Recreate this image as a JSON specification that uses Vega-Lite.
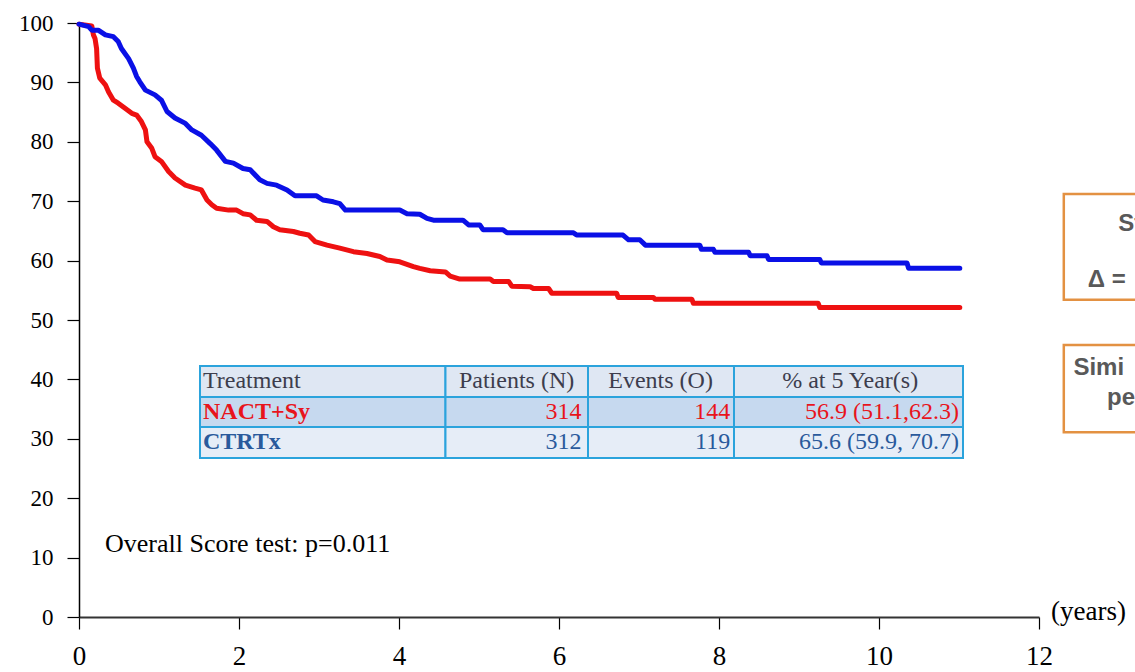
{
  "$schema": "https://vega.github.io/schema/vega-lite/v6.json",
  "width": 960,
  "height": 594,
  "autosize": "none",
  "padding": {"left": 79, "top": 23, "right": 96, "bottom": 55},
  "background": "white",
  "config": {
    "view": {"stroke": null},
    "font": "Liberation Serif",
    "axis": {"labelFont": "Liberation Serif", "labelColor": "#000000", "tickColor": "#000000", "tickSize": 12, "tickWidth": 1.2, "grid": false, "title": null, "labelFlush": false, "labelOverlap": false},
    "axisX": {"labelFontSize": 27, "domainColor": "#333333", "domainWidth": 2, "labelPadding": 14},
    "axisY": {"labelFontSize": 23, "domainColor": "#000000", "domainWidth": 1.5, "labelPadding": 14}
  },
  "datasets": {
    "curves": [
      {"arm": "NACT+Sy", "t": 0, "s": 99.8},
      {"arm": "NACT+Sy", "t": 0.16, "s": 99.5},
      {"arm": "NACT+Sy", "t": 0.18, "s": 98.0},
      {"arm": "NACT+Sy", "t": 0.2, "s": 97.4},
      {"arm": "NACT+Sy", "t": 0.22, "s": 95.7},
      {"arm": "NACT+Sy", "t": 0.23, "s": 92.4},
      {"arm": "NACT+Sy", "t": 0.26, "s": 90.7},
      {"arm": "NACT+Sy", "t": 0.33, "s": 89.6},
      {"arm": "NACT+Sy", "t": 0.37, "s": 88.4},
      {"arm": "NACT+Sy", "t": 0.43, "s": 87.0},
      {"arm": "NACT+Sy", "t": 0.49, "s": 86.5},
      {"arm": "NACT+Sy", "t": 0.58, "s": 85.6},
      {"arm": "NACT+Sy", "t": 0.66, "s": 84.8},
      {"arm": "NACT+Sy", "t": 0.72, "s": 84.5},
      {"arm": "NACT+Sy", "t": 0.78, "s": 83.4},
      {"arm": "NACT+Sy", "t": 0.83, "s": 82.0},
      {"arm": "NACT+Sy", "t": 0.85, "s": 80.0},
      {"arm": "NACT+Sy", "t": 0.91, "s": 78.9},
      {"arm": "NACT+Sy", "t": 0.95, "s": 77.5},
      {"arm": "NACT+Sy", "t": 1.03, "s": 76.7},
      {"arm": "NACT+Sy", "t": 1.12, "s": 75.0},
      {"arm": "NACT+Sy", "t": 1.2, "s": 73.9},
      {"arm": "NACT+Sy", "t": 1.33, "s": 72.7},
      {"arm": "NACT+Sy", "t": 1.45, "s": 72.2},
      {"arm": "NACT+Sy", "t": 1.53, "s": 71.9},
      {"arm": "NACT+Sy", "t": 1.6, "s": 70.2},
      {"arm": "NACT+Sy", "t": 1.66, "s": 69.4},
      {"arm": "NACT+Sy", "t": 1.72, "s": 68.8},
      {"arm": "NACT+Sy", "t": 1.87, "s": 68.5},
      {"arm": "NACT+Sy", "t": 1.97, "s": 68.5},
      {"arm": "NACT+Sy", "t": 2.05, "s": 67.9},
      {"arm": "NACT+Sy", "t": 2.14, "s": 67.7},
      {"arm": "NACT+Sy", "t": 2.22, "s": 66.8},
      {"arm": "NACT+Sy", "t": 2.35, "s": 66.6},
      {"arm": "NACT+Sy", "t": 2.43, "s": 65.7},
      {"arm": "NACT+Sy", "t": 2.51, "s": 65.2},
      {"arm": "NACT+Sy", "t": 2.68, "s": 64.9},
      {"arm": "NACT+Sy", "t": 2.76, "s": 64.6},
      {"arm": "NACT+Sy", "t": 2.87, "s": 64.3},
      {"arm": "NACT+Sy", "t": 2.95, "s": 63.2},
      {"arm": "NACT+Sy", "t": 3.1, "s": 62.6},
      {"arm": "NACT+Sy", "t": 3.26, "s": 62.1},
      {"arm": "NACT+Sy", "t": 3.43, "s": 61.5},
      {"arm": "NACT+Sy", "t": 3.6, "s": 61.2},
      {"arm": "NACT+Sy", "t": 3.76, "s": 60.7},
      {"arm": "NACT+Sy", "t": 3.85, "s": 60.1},
      {"arm": "NACT+Sy", "t": 4.01, "s": 59.8},
      {"arm": "NACT+Sy", "t": 4.18, "s": 59.0},
      {"arm": "NACT+Sy", "t": 4.26, "s": 58.7},
      {"arm": "NACT+Sy", "t": 4.39, "s": 58.3},
      {"arm": "NACT+Sy", "t": 4.58, "s": 58.1},
      {"arm": "NACT+Sy", "t": 4.64, "s": 57.4},
      {"arm": "NACT+Sy", "t": 4.76, "s": 56.9},
      {"arm": "NACT+Sy", "t": 5.14, "s": 56.9},
      {"arm": "NACT+Sy", "t": 5.18, "s": 56.5},
      {"arm": "NACT+Sy", "t": 5.37, "s": 56.5},
      {"arm": "NACT+Sy", "t": 5.41, "s": 55.7},
      {"arm": "NACT+Sy", "t": 5.64, "s": 55.6},
      {"arm": "NACT+Sy", "t": 5.68, "s": 55.3},
      {"arm": "NACT+Sy", "t": 5.87, "s": 55.3},
      {"arm": "NACT+Sy", "t": 5.91, "s": 54.5},
      {"arm": "NACT+Sy", "t": 6.72, "s": 54.5},
      {"arm": "NACT+Sy", "t": 6.74, "s": 53.8},
      {"arm": "NACT+Sy", "t": 7.18, "s": 53.8},
      {"arm": "NACT+Sy", "t": 7.2, "s": 53.5},
      {"arm": "NACT+Sy", "t": 7.66, "s": 53.5},
      {"arm": "NACT+Sy", "t": 7.68, "s": 52.8},
      {"arm": "NACT+Sy", "t": 9.24, "s": 52.8},
      {"arm": "NACT+Sy", "t": 9.26, "s": 52.1},
      {"arm": "NACT+Sy", "t": 11.01, "s": 52.1},
      {"arm": "CTRTx", "t": 0, "s": 99.8},
      {"arm": "CTRTx", "t": 0.12, "s": 99.4},
      {"arm": "CTRTx", "t": 0.16, "s": 98.8},
      {"arm": "CTRTx", "t": 0.24, "s": 98.8},
      {"arm": "CTRTx", "t": 0.33, "s": 98.0},
      {"arm": "CTRTx", "t": 0.43, "s": 97.7},
      {"arm": "CTRTx", "t": 0.49, "s": 96.9},
      {"arm": "CTRTx", "t": 0.53, "s": 95.7},
      {"arm": "CTRTx", "t": 0.62, "s": 94.0},
      {"arm": "CTRTx", "t": 0.68, "s": 92.4},
      {"arm": "CTRTx", "t": 0.72, "s": 91.0},
      {"arm": "CTRTx", "t": 0.76, "s": 90.1},
      {"arm": "CTRTx", "t": 0.83, "s": 88.7},
      {"arm": "CTRTx", "t": 0.95, "s": 87.9},
      {"arm": "CTRTx", "t": 1.03, "s": 87.0},
      {"arm": "CTRTx", "t": 1.1, "s": 85.1},
      {"arm": "CTRTx", "t": 1.2, "s": 84.0},
      {"arm": "CTRTx", "t": 1.33, "s": 83.1},
      {"arm": "CTRTx", "t": 1.41, "s": 82.0},
      {"arm": "CTRTx", "t": 1.53, "s": 81.1},
      {"arm": "CTRTx", "t": 1.64, "s": 79.7},
      {"arm": "CTRTx", "t": 1.72, "s": 78.6},
      {"arm": "CTRTx", "t": 1.83, "s": 76.7},
      {"arm": "CTRTx", "t": 1.93, "s": 76.4},
      {"arm": "CTRTx", "t": 2.05, "s": 75.5},
      {"arm": "CTRTx", "t": 2.14, "s": 75.3},
      {"arm": "CTRTx", "t": 2.26, "s": 73.6},
      {"arm": "CTRTx", "t": 2.35, "s": 73.0},
      {"arm": "CTRTx", "t": 2.47, "s": 72.7},
      {"arm": "CTRTx", "t": 2.6, "s": 71.9},
      {"arm": "CTRTx", "t": 2.7, "s": 70.9},
      {"arm": "CTRTx", "t": 2.97, "s": 70.9},
      {"arm": "CTRTx", "t": 3.05, "s": 70.2},
      {"arm": "CTRTx", "t": 3.18, "s": 69.9},
      {"arm": "CTRTx", "t": 3.26, "s": 69.6},
      {"arm": "CTRTx", "t": 3.33, "s": 68.5},
      {"arm": "CTRTx", "t": 4.01, "s": 68.5},
      {"arm": "CTRTx", "t": 4.1, "s": 67.9},
      {"arm": "CTRTx", "t": 4.26, "s": 67.8},
      {"arm": "CTRTx", "t": 4.35, "s": 67.1},
      {"arm": "CTRTx", "t": 4.43, "s": 66.8},
      {"arm": "CTRTx", "t": 4.8, "s": 66.8},
      {"arm": "CTRTx", "t": 4.87, "s": 66.0},
      {"arm": "CTRTx", "t": 5.01, "s": 66.0},
      {"arm": "CTRTx", "t": 5.05, "s": 65.2},
      {"arm": "CTRTx", "t": 5.3, "s": 65.2},
      {"arm": "CTRTx", "t": 5.35, "s": 64.7},
      {"arm": "CTRTx", "t": 6.18, "s": 64.7},
      {"arm": "CTRTx", "t": 6.22, "s": 64.3},
      {"arm": "CTRTx", "t": 6.8, "s": 64.3},
      {"arm": "CTRTx", "t": 6.87, "s": 63.5},
      {"arm": "CTRTx", "t": 7.01, "s": 63.5},
      {"arm": "CTRTx", "t": 7.08, "s": 62.6},
      {"arm": "CTRTx", "t": 7.76, "s": 62.6},
      {"arm": "CTRTx", "t": 7.78, "s": 61.9},
      {"arm": "CTRTx", "t": 7.93, "s": 61.9},
      {"arm": "CTRTx", "t": 7.95, "s": 61.4},
      {"arm": "CTRTx", "t": 8.37, "s": 61.4},
      {"arm": "CTRTx", "t": 8.39, "s": 60.8},
      {"arm": "CTRTx", "t": 8.6, "s": 60.8},
      {"arm": "CTRTx", "t": 8.62, "s": 60.2},
      {"arm": "CTRTx", "t": 9.26, "s": 60.2},
      {"arm": "CTRTx", "t": 9.28, "s": 59.6},
      {"arm": "CTRTx", "t": 10.35, "s": 59.6},
      {"arm": "CTRTx", "t": 10.37, "s": 58.7},
      {"arm": "CTRTx", "t": 11.01, "s": 58.7}
    ],
    "cells": [
      {"role": "header", "c0": 1.5125, "c1": 4.581, "r0": 37.04, "r1": 42.26},
      {"role": "header", "c0": 4.581, "c1": 6.3625, "r0": 37.04, "r1": 42.26},
      {"role": "header", "c0": 6.3625, "c1": 8.1875, "r0": 37.04, "r1": 42.26},
      {"role": "header", "c0": 8.1875, "c1": 11.05, "r0": 37.04, "r1": 42.26},
      {"role": "nact", "c0": 1.5125, "c1": 4.581, "r0": 31.99, "r1": 37.04},
      {"role": "nact", "c0": 4.581, "c1": 6.3625, "r0": 31.99, "r1": 37.04},
      {"role": "nact", "c0": 6.3625, "c1": 8.1875, "r0": 31.99, "r1": 37.04},
      {"role": "nact", "c0": 8.1875, "c1": 11.05, "r0": 31.99, "r1": 37.04},
      {"role": "ctrtx", "c0": 1.5125, "c1": 4.581, "r0": 26.77, "r1": 31.99},
      {"role": "ctrtx", "c0": 4.581, "c1": 6.3625, "r0": 26.77, "r1": 31.99},
      {"role": "ctrtx", "c0": 6.3625, "c1": 8.1875, "r0": 26.77, "r1": 31.99},
      {"role": "ctrtx", "c0": 8.1875, "c1": 11.05, "r0": 26.77, "r1": 31.99}
    ],
    "tableText": [
      {"kind": "headLeft", "role": "header", "x": 1.55, "y": 39.65, "label": "Treatment"},
      {"kind": "headCenter", "role": "header", "x": 5.47, "y": 39.65, "label": "Patients (N)"},
      {"kind": "headCenter", "role": "header", "x": 7.27, "y": 39.65, "label": "Events (O)"},
      {"kind": "headCenter", "role": "header", "x": 9.64, "y": 39.65, "label": "% at 5 Year(s)"},
      {"kind": "rowLabel", "role": "nact", "x": 1.55, "y": 34.5, "label": "NACT+Sy"},
      {"kind": "rowLabel", "role": "ctrtx", "x": 1.55, "y": 29.4, "label": "CTRTx"},
      {"kind": "num", "role": "nact", "x": 6.28, "y": 34.5, "label": "314"},
      {"kind": "num", "role": "nact", "x": 8.14, "y": 34.5, "label": "144"},
      {"kind": "num", "role": "nact", "x": 11.0, "y": 34.5, "label": "56.9 (51.1,62.3)"},
      {"kind": "num", "role": "ctrtx", "x": 6.28, "y": 29.4, "label": "312"},
      {"kind": "num", "role": "ctrtx", "x": 8.14, "y": 29.4, "label": "119"},
      {"kind": "num", "role": "ctrtx", "x": 11.0, "y": 29.4, "label": "65.6 (59.9, 70.7)"}
    ],
    "notes": [
      {"x": 0.325, "y": 12.3, "label": "Overall Score test: p=0.011"}
    ],
    "unit": [
      {"x": 12, "y": 0.85, "label": "(years)"}
    ],
    "boxes": [
      {"b0": 12.31, "b1": 14.5, "r0": 53.4, "r1": 71.2},
      {"b0": 12.31, "b1": 14.5, "r0": 31.1, "r1": 45.8}
    ],
    "boxText": [
      {"x": 12.99, "y": 66.1, "label": "St"},
      {"x": 12.61, "y": 56.7, "label": "Δ ="},
      {"x": 12.43, "y": 41.9, "label": "Simi"},
      {"x": 12.85, "y": 36.9, "label": "pe"}
    ]
  },
  "layer": [
    {
      "data": {"name": "curves"},
      "mark": {"type": "line", "strokeWidth": 5, "strokeJoin": "round", "strokeCap": "round"},
      "encoding": {
        "x": {
          "field": "t", "type": "quantitative", "title": null,
          "scale": {"domain": [0, 12], "nice": false},
          "axis": {"values": [0, 2, 4, 6, 8, 10, 12], "format": "d", "title": null, "labelFont": "Liberation Serif"}
        },
        "y": {
          "field": "s", "type": "quantitative", "title": null,
          "scale": {"domain": [0, 100], "nice": false},
          "axis": {"values": [0, 10, 20, 30, 40, 50, 60, 70, 80, 90, 100], "format": "d", "title": null, "labelFont": "Liberation Serif"}
        },
        "stroke": {"field": "arm", "type": "nominal", "scale": {"domain": ["NACT+Sy", "CTRTx"], "range": ["#ee1111", "#0a10e6"]}, "legend": null},
        "order": {"field": "t", "type": "quantitative"}
      }
    },
    {
      "data": {"name": "cells"},
      "mark": {"type": "rect", "stroke": "#2ba3dc", "strokeWidth": 2},
      "encoding": {
        "x": {"field": "c0", "type": "quantitative", "title": null},
        "x2": {"field": "c1"},
        "y": {"field": "r0", "type": "quantitative", "title": null},
        "y2": {"field": "r1"},
        "fill": {"field": "role", "type": "nominal", "scale": {"domain": ["header", "nact", "ctrtx"], "range": ["#dfe7f3", "#c6d9ef", "#e6edf7"]}, "legend": null}
      }
    },
    {
      "data": {"name": "tableText"},
      "transform": [{"filter": "datum.kind === 'headLeft'"}],
      "mark": {"type": "text", "align": "left", "baseline": "middle", "font": "Liberation Serif", "fontSize": 24},
      "encoding": {
        "x": {"field": "x", "type": "quantitative", "title": null},
        "y": {"field": "y", "type": "quantitative", "title": null},
        "text": {"field": "label"},
        "color": {"field": "role", "type": "nominal", "scale": {"domain": ["header", "nact", "ctrtx"], "range": ["#3d3d4d", "#e8141c", "#2a5a9c"]}, "legend": null}
      }
    },
    {
      "data": {"name": "tableText"},
      "transform": [{"filter": "datum.kind === 'headCenter'"}],
      "mark": {"type": "text", "align": "center", "baseline": "middle", "font": "Liberation Serif", "fontSize": 24},
      "encoding": {
        "x": {"field": "x", "type": "quantitative", "title": null},
        "y": {"field": "y", "type": "quantitative", "title": null},
        "text": {"field": "label"},
        "color": {"field": "role", "type": "nominal", "scale": {"domain": ["header", "nact", "ctrtx"], "range": ["#3d3d4d", "#e8141c", "#2a5a9c"]}, "legend": null}
      }
    },
    {
      "data": {"name": "tableText"},
      "transform": [{"filter": "datum.kind === 'num'"}],
      "mark": {"type": "text", "align": "right", "baseline": "middle", "font": "Liberation Serif", "fontSize": 24},
      "encoding": {
        "x": {"field": "x", "type": "quantitative", "title": null},
        "y": {"field": "y", "type": "quantitative", "title": null},
        "text": {"field": "label"},
        "color": {"field": "role", "type": "nominal", "scale": {"domain": ["header", "nact", "ctrtx"], "range": ["#3d3d4d", "#e8141c", "#2a5a9c"]}, "legend": null}
      }
    },
    {
      "data": {"name": "tableText"},
      "transform": [{"filter": "datum.kind === 'rowLabel'"}],
      "mark": {"type": "text", "align": "left", "baseline": "middle", "font": "Liberation Serif", "fontSize": 24, "fontWeight": "bold"},
      "encoding": {
        "x": {"field": "x", "type": "quantitative", "title": null},
        "y": {"field": "y", "type": "quantitative", "title": null},
        "text": {"field": "label"},
        "color": {"field": "role", "type": "nominal", "scale": {"domain": ["header", "nact", "ctrtx"], "range": ["#3d3d4d", "#e8141c", "#1f4f96"]}, "legend": null}
      }
    },
    {
      "data": {"name": "notes"},
      "mark": {"type": "text", "align": "left", "baseline": "middle", "font": "Liberation Serif", "fontSize": 26, "color": "#000000"},
      "encoding": {
        "x": {"field": "x", "type": "quantitative", "title": null},
        "y": {"field": "y", "type": "quantitative", "title": null},
        "text": {"field": "label"}
      }
    },
    {
      "data": {"name": "unit"},
      "mark": {"type": "text", "align": "left", "baseline": "middle", "dx": 12, "font": "Liberation Serif", "fontSize": 27, "color": "#000000"},
      "encoding": {
        "x": {"field": "x", "type": "quantitative", "title": null},
        "y": {"field": "y", "type": "quantitative", "title": null},
        "text": {"field": "label"}
      }
    },
    {
      "data": {"name": "boxes"},
      "mark": {"type": "rect", "fill": "#ffffff", "stroke": "#e39142", "strokeWidth": 2.5},
      "encoding": {
        "x": {"field": "b0", "type": "quantitative", "title": null},
        "x2": {"field": "b1"},
        "y": {"field": "r0", "type": "quantitative", "title": null},
        "y2": {"field": "r1"}
      }
    },
    {
      "data": {"name": "boxText"},
      "mark": {"type": "text", "align": "left", "baseline": "middle", "font": "Liberation Sans", "fontSize": 24, "fontWeight": "bold", "color": "#595959"},
      "encoding": {
        "x": {"field": "x", "type": "quantitative", "title": null},
        "y": {"field": "y", "type": "quantitative", "title": null},
        "text": {"field": "label"}
      }
    }
  ]
}
